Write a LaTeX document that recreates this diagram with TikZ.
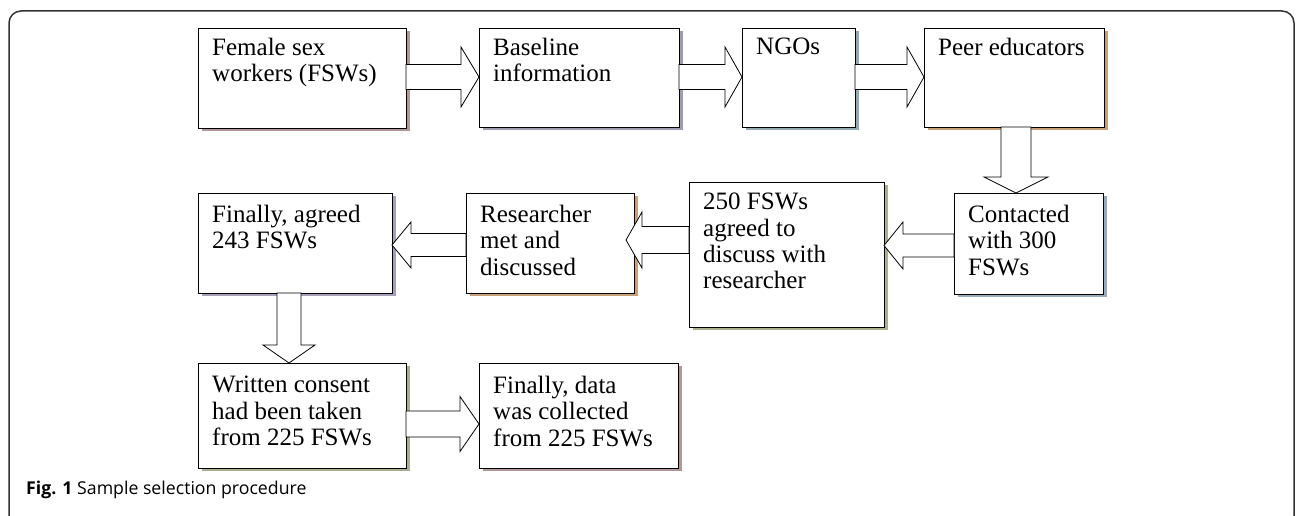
\documentclass[tikz,border=0pt]{standalone}
\usepackage{fontspec}
\setmainfont{Liberation Serif}
\newfontfamily\capfont{Open Sans}
\usetikzlibrary{calc,shadows}
\definecolor{shA}{HTML}{B09898}
\definecolor{shB}{HTML}{A09CB0}
\definecolor{shC}{HTML}{90AAB0}
\definecolor{shD}{HTML}{C8A078}
\definecolor{shE}{HTML}{98ACBC}
\definecolor{shF}{HTML}{A8B090}
\definecolor{shG}{HTML}{A8A0B8}
\definecolor{frame}{HTML}{333333}
\tikzset{
  box/.style={draw=black, fill=white, line width=0.8pt, inner sep=0pt, outer sep=0pt, anchor=north west,
    drop shadow={shadow xshift=3.5pt, shadow yshift=-3.5pt, fill=#1, opacity=1}},
  txt/.style={anchor=north west, align=left, inner sep=0pt, font=\fontsize{25}{26.3}\selectfont},
  blk/.style={draw=black, fill=white, line width=0.8pt, line join=miter},
}
% right arrow: from, to, Y, shaft half, head half, head length
\newcommand\arrR[6]{\draw[blk] let \p1=(#1.east), \p2=(#2.west) in
  (\x1,#3pt+#4pt) -- (\x2-#6pt,#3pt+#4pt) -- (\x2-#6pt,#3pt+#5pt) -- (\x2,#3pt)
  -- (\x2-#6pt,#3pt-#5pt) -- (\x2-#6pt,#3pt-#4pt) -- (\x1,#3pt-#4pt) -- cycle;}
% left arrow: from, to, Y, shaft half, head half, head length, tip inset
\newcommand\arrL[7]{\draw[blk] let \p1=(#1.west), \p2=(#2.east) in
  (\x1,#3pt+#4pt) -- (\x2-#7pt+#6pt,#3pt+#4pt) -- (\x2-#7pt+#6pt,#3pt+#5pt) -- (\x2-#7pt,#3pt)
  -- (\x2-#7pt+#6pt,#3pt-#5pt) -- (\x2-#7pt+#6pt,#3pt-#4pt) -- (\x1,#3pt-#4pt) -- cycle;}
% down arrow: from, to, X, shaft half, head half, head length
\newcommand\arrD[6]{\draw[blk] let \p1=(#1.south), \p2=(#2.north) in
  (#3pt-#4pt,\y1) -- (#3pt-#4pt,\y2+#6pt) -- (#3pt-#5pt,\y2+#6pt) -- (#3pt,\y2)
  -- (#3pt+#5pt,\y2+#6pt) -- (#3pt+#4pt,\y2+#6pt) -- (#3pt+#4pt,\y1) -- cycle;}
\begin{document}
\begin{tikzpicture}[x=1pt,y=1pt]
\useasboundingbox (0,0) rectangle (1296,516);
\fill[white] (0,0) rectangle (1296,516);
\draw[frame, line width=1.5pt, rounded corners=12pt] (9,505) rectangle (1294,-12);

% boxes (top-left at (x, 516-y))
\node[box=shA, minimum width=208pt, minimum height=100pt] (b1) at (198,488) {};
\node[box=shB, minimum width=200pt, minimum height=99pt]  (b2) at (479,488) {};
\node[box=shC, minimum width=113pt, minimum height=99pt]  (b3) at (742,488) {};
\node[box=shD, minimum width=180pt, minimum height=99pt]  (b4) at (924,488) {};
\node[box=shE, minimum width=149pt, minimum height=101pt] (b5) at (954,323) {};
\node[box=shF, minimum width=195pt, minimum height=145pt] (b6) at (689,334) {};
\node[box=shD, minimum width=168pt, minimum height=100pt] (b7) at (466,323) {};
\node[box=shG, minimum width=194pt, minimum height=100pt] (b8) at (198,323) {};
\node[box=shF, minimum width=208pt, minimum height=105pt] (b9) at (198,153) {};
\node[box=shA, minimum width=199pt, minimum height=105pt] (b10) at (479,153) {};

% texts
\node[txt] (t1) at ([xshift=14pt,yshift=-10pt]b1.north west) {Female sex\\workers (FSWs)};
\node[txt] (t2) at ([xshift=14pt,yshift=-10pt]b2.north west) {Baseline\\information};
\node[txt] (t3) at ([xshift=14pt,yshift=-10pt]b3.north west) {NGOs};
\node[txt] (t4) at ([xshift=14pt,yshift=-10pt]b4.north west) {Peer educators};
\node[txt] (t5) at ([xshift=14pt,yshift=-12pt]b5.north west) {Contacted\\with 300\\FSWs};
\node[txt] (t6) at ([xshift=14pt,yshift=-11pt]b6.north west) {250 FSWs\\agreed to\\discuss with\\researcher};
\node[txt] (t7) at ([xshift=14pt,yshift=-12pt]b7.north west) {Researcher\\met and\\discussed};
\node[txt] (t8) at ([xshift=14pt,yshift=-12pt]b8.north west) {Finally, agreed\\243 FSWs};
\node[txt] (t9) at ([xshift=14pt,yshift=-13pt]b9.north west) {Written consent\\had been taken\\from 225 FSWs};
\node[txt] (t10) at ([xshift=14pt,yshift=-13pt]b10.north west) {Finally, data\\was collected\\from 225 FSWs};

% block arrows
\arrR{b1}{b2}{439}{12.5}{30}{18}
\arrR{b2}{b3}{439}{12.5}{30}{17}
\arrR{b3}{b4}{439}{12.5}{30}{17}
\arrD{b4}{b5}{1016}{15}{32}{16}
\arrL{b5}{b6}{270.5}{11.5}{23.5}{19}{0}
\arrL{b6}{b7}{276}{13.5}{28}{16}{8}
\arrL{b7}{b8}{271}{11.5}{23}{19}{0}
\arrD{b8}{b9}{289}{12}{26}{18}
\arrR{b9}{b10}{92}{13}{27.5}{19}

% caption
\node[anchor=base west, inner sep=0pt, font=\capfont\fontsize{17.7}{21}\selectfont] (cap) at (26,21)
  {\textbf{Fig. 1} Sample selection procedure};
\end{tikzpicture}
\end{document}
